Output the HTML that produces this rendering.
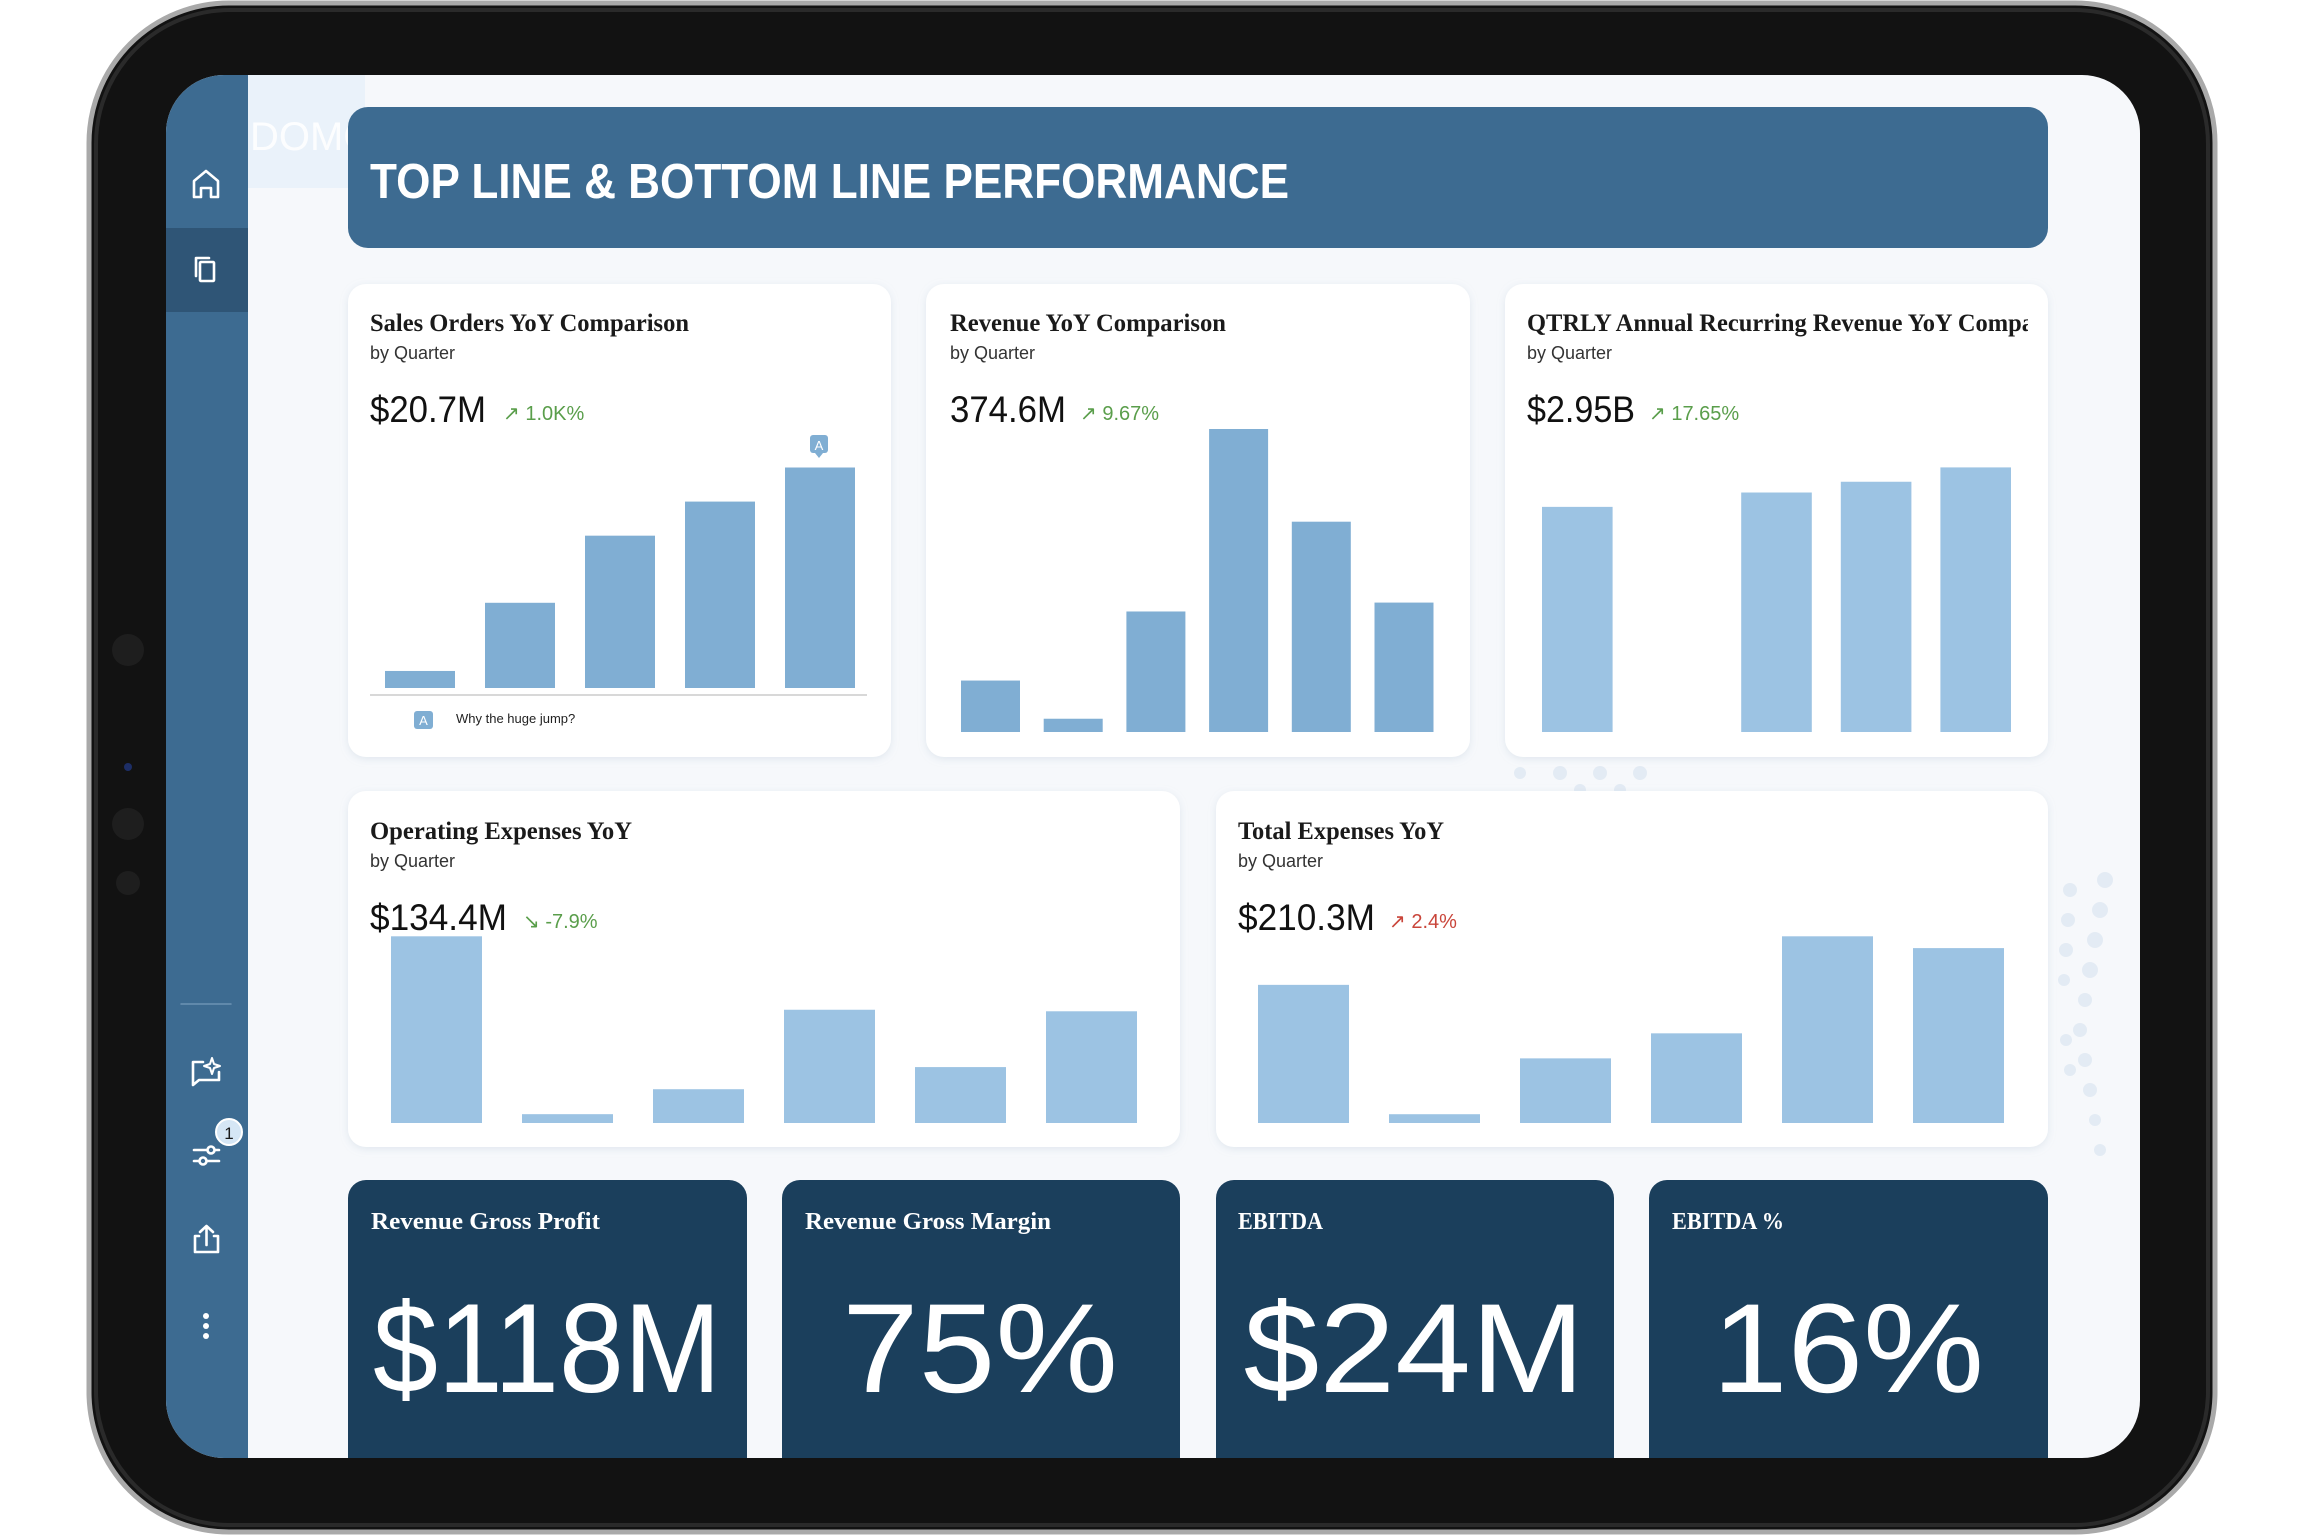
<!DOCTYPE html>
<html><head><meta charset="utf-8"><style>
html,body{margin:0;padding:0;background:#fff;}
svg{display:block;}
.serif{font-family:"Liberation Serif",serif;font-weight:bold;}
.sans{font-family:"Liberation Sans",sans-serif;}
</style></head><body>
<svg id="root" width="2305" height="1536" viewBox="0 0 2305 1536" xmlns="http://www.w3.org/2000/svg">
<defs>
<clipPath id="screenClip"><rect x="166" y="75" width="1974" height="1383" rx="58"/></clipPath>
<clipPath id="card3Clip"><rect x="1505" y="284" width="523" height="120"/></clipPath>
<filter id="sh" x="-5%" y="-5%" width="110%" height="115%"><feDropShadow dx="0" dy="2" stdDeviation="4" flood-color="#9fb3c8" flood-opacity="0.25"/></filter>
</defs>
<!-- device -->
<rect x="89" y="3" width="2126" height="1529" rx="140" fill="#121212" stroke="#a9a9a9" stroke-width="5"/>
<rect x="96" y="10" width="2112" height="1515" rx="134" fill="none" stroke="#2a2a2a" stroke-width="4"/>
<circle cx="128" cy="650" r="16" fill="#1e1e1e"/>
<circle cx="128" cy="824" r="16" fill="#1e1e1e"/>
<circle cx="128" cy="883" r="12" fill="#1e1e1e"/>
<circle cx="128" cy="767" r="4" fill="#1d2e66"/>
<g clip-path="url(#screenClip)">
<rect x="166" y="75" width="1974" height="1383" fill="#f6f8fb"/>
<g fill="#e3ebf4">
<circle cx="2105" cy="880" r="8"/><circle cx="2100" cy="910" r="8"/><circle cx="2095" cy="940" r="8"/><circle cx="2090" cy="970" r="8"/><circle cx="2085" cy="1000" r="7"/><circle cx="2080" cy="1030" r="7"/><circle cx="2085" cy="1060" r="7"/><circle cx="2090" cy="1090" r="7"/><circle cx="2095" cy="1120" r="6"/><circle cx="2100" cy="1150" r="6"/>
<circle cx="2070" cy="890" r="7"/><circle cx="2068" cy="920" r="7"/><circle cx="2066" cy="950" r="7"/><circle cx="2064" cy="980" r="6"/><circle cx="2066" cy="1040" r="6"/><circle cx="2070" cy="1070" r="6"/>
<circle cx="1520" cy="773" r="6"/><circle cx="1560" cy="773" r="7"/><circle cx="1600" cy="773" r="7"/><circle cx="1640" cy="773" r="7"/><circle cx="1580" cy="790" r="6"/><circle cx="1620" cy="790" r="6"/>
</g>
<!-- sidebar -->
<rect x="166" y="75" width="82" height="1383" fill="#3d6b91"/>
<rect x="166" y="228" width="82" height="84" fill="#2f5576"/>
<rect x="248" y="75" width="117" height="113" fill="#eaf2fa"/>
<text x="250" y="150" class="sans" font-size="40" fill="#ffffff" opacity="0.9">DOMO</text>
<g fill="none" stroke="#ffffff" stroke-width="2.6" stroke-linejoin="round" stroke-linecap="round">
<path d="M194 197 V181 L206 171 L218 181 V197 H211 V188 H201 V197 Z"/>
<g><rect x="200" y="262" width="14" height="19" rx="1"/><path d="M196 276 V258 H209"/></g>
<line x1="181" y1="1004" x2="231" y2="1004" stroke="#6d93b4" stroke-width="1.5"/>
<path d="M203 1062 H193 V1085 L199 1080 H219 V1072"/>
<path d="M212 1058 L214 1064 L220 1066 L214 1068 L212 1074 L210 1068 L204 1066 L210 1064 Z" stroke-width="2"/>
<g><line x1="194" y1="1150" x2="219" y2="1150"/><line x1="194" y1="1161" x2="219" y2="1161"/><circle cx="211" cy="1150" r="3.5" fill="#3d6b91"/><circle cx="203" cy="1161" r="3.5" fill="#3d6b91"/></g>
<g><path d="M199 1236 H195 V1252 H218 V1236 H214"/><path d="M206.5 1245 V1226 M200 1232 L206.5 1226 L213 1232"/></g>
</g>
<circle cx="229" cy="1132" r="13" fill="#d5e6f5" stroke="#ffffff" stroke-width="2"/>
<text x="229" y="1139" text-anchor="middle" class="sans" font-size="17" fill="#1a1a1a">1</text>
<g fill="#ffffff"><circle cx="206" cy="1316" r="3"/><circle cx="206" cy="1326" r="3"/><circle cx="206" cy="1336" r="3"/></g>
<!-- header -->
<rect x="348" y="107" width="1700" height="141" rx="20" fill="#3d6b91"/>
<text x="370" y="198" class="sans" font-weight="bold" font-size="49" fill="#ffffff" textLength="919" lengthAdjust="spacingAndGlyphs">TOP LINE &amp; BOTTOM LINE PERFORMANCE</text>
<!-- cards -->
<g filter="url(#sh)" fill="#ffffff">
<rect x="348" y="284" width="543" height="473" rx="18"/>
<rect x="926" y="284" width="544" height="473" rx="18"/>
<rect x="1505" y="284" width="543" height="473" rx="18"/>
<rect x="348" y="791" width="832" height="356" rx="18"/>
<rect x="1216" y="791" width="832" height="356" rx="18"/>
</g>
<text x="370" y="331" class="serif" font-size="25" fill="#1a1a1a" textLength="319" lengthAdjust="spacingAndGlyphs">Sales Orders YoY Comparison</text>
<text x="950" y="331" class="serif" font-size="25" fill="#1a1a1a" textLength="276" lengthAdjust="spacingAndGlyphs">Revenue YoY Comparison</text>
<g clip-path="url(#card3Clip)"><text x="1527" y="331" class="serif" font-size="25" fill="#1a1a1a" textLength="560" lengthAdjust="spacingAndGlyphs">QTRLY Annual Recurring Revenue YoY Comparison</text></g>
<text x="370" y="839" class="serif" font-size="25" fill="#1a1a1a" textLength="262" lengthAdjust="spacingAndGlyphs">Operating Expenses YoY</text>
<text x="1238" y="839" class="serif" font-size="25" fill="#1a1a1a" textLength="206" lengthAdjust="spacingAndGlyphs">Total Expenses YoY</text>
<g class="sans" font-size="18" fill="#333">
<text x="370" y="359">by Quarter</text>
<text x="950" y="359">by Quarter</text>
<text x="1527" y="359">by Quarter</text>
<text x="370" y="867">by Quarter</text>
<text x="1238" y="867">by Quarter</text>
</g>
<g class="sans" font-size="37" fill="#111">
<text x="370" y="422" textLength="116" lengthAdjust="spacingAndGlyphs">$20.7M</text>
<text x="950" y="422" textLength="116" lengthAdjust="spacingAndGlyphs">374.6M</text>
<text x="1527" y="422" textLength="108" lengthAdjust="spacingAndGlyphs">$2.95B</text>
<text x="370" y="930" textLength="137" lengthAdjust="spacingAndGlyphs">$134.4M</text>
<text x="1238" y="930" textLength="137" lengthAdjust="spacingAndGlyphs">$210.3M</text>
</g>
<g class="sans" font-size="20">
<text x="503" y="420" fill="#5a9e4b">↗ 1.0K%</text>
<text x="1080" y="420" fill="#5a9e4b">↗ 9.67%</text>
<text x="1649" y="420" fill="#5a9e4b">↗ 17.65%</text>
<text x="523" y="928" fill="#5a9e4b">↘ -7.9%</text>
<text x="1389" y="928" fill="#c9453a">↗ 2.4%</text>
</g>
<line x1="370" y1="695" x2="867" y2="695" stroke="#d8d8d8" stroke-width="2"/>
<rect x="810" y="435" width="18" height="18" rx="3" fill="#80aed3"/>
<path d="M815 453 L819 458 L823 453 Z" fill="#80aed3"/>
<text x="819" y="450" text-anchor="middle" class="sans" font-size="13" fill="#fff">A</text>
<rect x="414" y="711" width="19" height="18" rx="3" fill="#80aed3"/>
<text x="423.5" y="725" text-anchor="middle" class="sans" font-size="13" fill="#fff">A</text>
<text x="456" y="723" class="sans" font-size="13" fill="#222">Why the huge jump?</text>
<g id="bars"></g>
<!-- KPI tiles -->
<g fill="#1b3f5c">
<rect x="348" y="1180" width="399" height="320" rx="18"/>
<rect x="782" y="1180" width="398" height="320" rx="18"/>
<rect x="1216" y="1180" width="398" height="320" rx="18"/>
<rect x="1649" y="1180" width="399" height="320" rx="18"/>
</g>
<g class="serif" font-size="24" fill="#ffffff">
<text x="371" y="1229" textLength="229" lengthAdjust="spacingAndGlyphs">Revenue Gross Profit</text>
<text x="805" y="1229" textLength="246" lengthAdjust="spacingAndGlyphs">Revenue Gross Margin</text>
<text x="1238" y="1229" textLength="85" lengthAdjust="spacingAndGlyphs">EBITDA</text>
<text x="1672" y="1229" textLength="112" lengthAdjust="spacingAndGlyphs">EBITDA %</text>
</g>
<g class="sans" font-size="127" fill="#ffffff" text-anchor="middle">
<text x="547" y="1392" textLength="348" lengthAdjust="spacingAndGlyphs">$118M</text>
<text x="980" y="1392" textLength="276" lengthAdjust="spacingAndGlyphs">75%</text>
<text x="1414" y="1392" textLength="341" lengthAdjust="spacingAndGlyphs">$24M</text>
<text x="1848" y="1392" textLength="272" lengthAdjust="spacingAndGlyphs">16%</text>
</g>
</g>
</svg>
<script>
const quarters6 = ["Q1","Q2","Q3","Q4","Q5","Q6"];
const salesOrders = [1.6, 8.0, 14.3, 17.5, 20.7];
const revenue = [63.6, 16.4, 149, 374.6, 260, 160];
const arr = [2.51, 0, 2.67, 2.79, 2.95];
const opex = [145.9, 6.9, 26.4, 88.5, 43.7, 87.3];
const totalExpenses = [155.6, 9.9, 72.8, 101, 210.3, 197];

const NS = "http://www.w3.org/2000/svg";
const g = document.getElementById("bars");
function drawChart(name, values, x0, step, w, base, maxV, maxPx, color) {
  const y = v => base - v / maxV * maxPx;
  values.forEach((v, i) => {
    const r = document.createElementNS(NS, "rect");
    r.setAttribute("x", x0 + i * step);
    r.setAttribute("y", y(v));
    r.setAttribute("width", w);
    r.setAttribute("height", base - y(v));
    r.setAttribute("fill", color);
    
    
    g.appendChild(r);
  });
}
drawChart("sales-orders", salesOrders, 385, 100, 70, 688, 20.7, 220.5, "#80aed3");
drawChart("revenue", revenue, 961, 82.7, 59, 732, 374.6, 303, "#80aed3");
drawChart("arr", arr, 1542, 99.6, 70.6, 732, 2.95, 264.6, "#9cc3e3");
drawChart("opex", opex, 391, 131, 91, 1123, 145.9, 186.7, "#9cc3e3");
drawChart("total-expenses", totalExpenses, 1258, 131, 91, 1123, 210.3, 186.7, "#9cc3e3");
</script>
</body></html>
